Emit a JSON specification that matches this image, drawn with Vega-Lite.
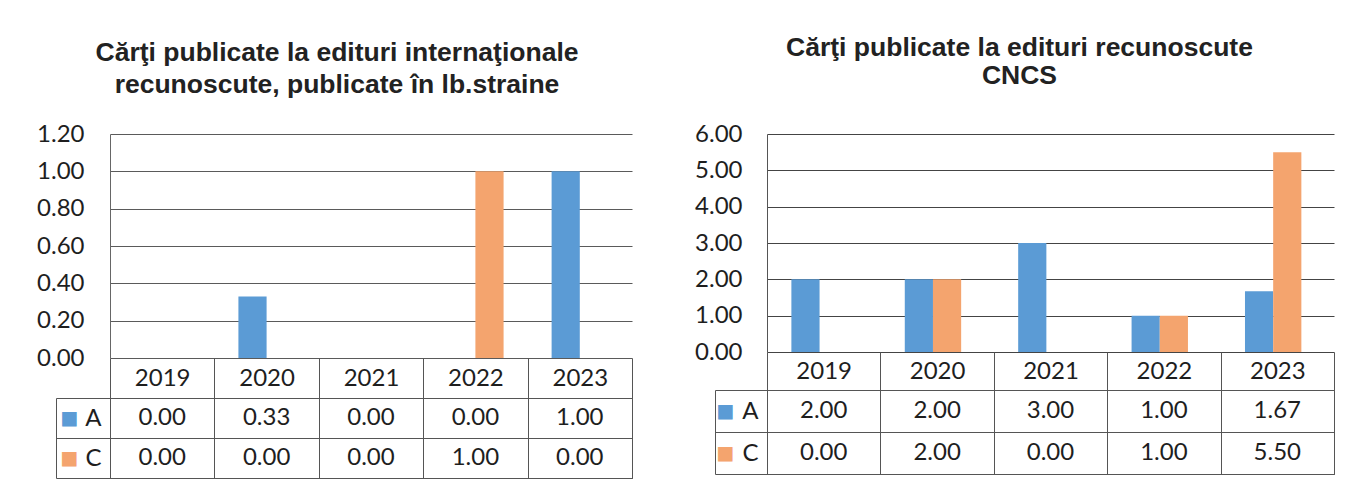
{
  "$schema": "https://vega.github.io/schema/vega-lite/v6.json",
  "background": "white",
  "padding": {"left": 36, "top": 34, "right": 5, "bottom": 5},
  "spacing": 61,
  "datasets": {
    "left": [
      {"year": "2019", "series": "A", "value": 0},
      {"year": "2020", "series": "A", "value": 0.33},
      {"year": "2021", "series": "A", "value": 0},
      {"year": "2022", "series": "A", "value": 0},
      {"year": "2023", "series": "A", "value": 1},
      {"year": "2019", "series": "C", "value": 0},
      {"year": "2020", "series": "C", "value": 0},
      {"year": "2021", "series": "C", "value": 0},
      {"year": "2022", "series": "C", "value": 1},
      {"year": "2023", "series": "C", "value": 0}
    ],
    "right": [
      {"year": "2019", "series": "A", "value": 2},
      {"year": "2020", "series": "A", "value": 2},
      {"year": "2021", "series": "A", "value": 3},
      {"year": "2022", "series": "A", "value": 1},
      {"year": "2023", "series": "A", "value": 1.67},
      {"year": "2019", "series": "C", "value": 0},
      {"year": "2020", "series": "C", "value": 2},
      {"year": "2021", "series": "C", "value": 0},
      {"year": "2022", "series": "C", "value": 1},
      {"year": "2023", "series": "C", "value": 5.5}
    ]
  },
  "config": {
    "font": "Lato",
    "title": {"font": "Liberation Sans", "fontSize": 26.5, "fontWeight": "bold", "color": "#222222"},
    "axis": {"labelFont": "Lato", "labelFontSize": 24, "labelColor": "#1e1e1e", "title": null}
  },
  "hconcat": [
    {
      "spacing": 40,
      "bounds": "flush",
      "resolve": {"scale": {"x": "independent", "y": "independent", "color": "independent"}},
      "vconcat": [
        {
          "width": 522,
          "height": 224,
          "title": {"text": ["Cărţi publicate la edituri internaţionale", "recunoscute, publicate în lb.straine"], "lineHeight": 32, "offset": 24, "dx": -34},
          "data": {"name": "left"},
          "mark": {"type": "bar"},
          "encoding": {
            "x": {"field": "year", "type": "nominal", "scale": {"paddingInner": 0.46, "paddingOuter": 0.23}, "axis": null},
            "xOffset": {"field": "series", "type": "nominal", "scale": {"domain": ["A", "C"], "paddingInner": 0, "paddingOuter": 0}},
            "y": {"field": "value", "type": "quantitative", "scale": {"domain": [0, 1.2], "nice": false},
                  "axis": {"values": [0, 0.2, 0.4, 0.6, 0.8, 1, 1.2], "format": ".2f", "ticks": false, "labelPadding": 26, "domainColor": "#666", "grid": true, "gridColor": "#5a5a5a", "gridOpacity": 1}},
            "color": {"field": "series", "type": "nominal", "scale": {"domain": ["A", "C"], "range": ["#5B9BD5", "#F4A46E"]}, "legend": null}
          },
          "view": {"stroke": null}
        },
        {
          "width": 522,
          "height": 80,
          "data": {"name": "left"},
          "layer": [
            {
              "mark": {"type": "text", "font": "Lato", "fontSize": 24, "color": "#1e1e1e"},
              "encoding": {
                "x": {"field": "year", "type": "nominal", "scale": {"paddingInner": 0, "paddingOuter": 0},
                      "axis": {"orient": "top", "tickBand": "extent", "tickSize": 40, "tickColor": "#555", "labelPadding": -20, "labelBaseline": "middle", "labelAngle": 0, "domain": false, "grid": true, "gridColor": "#555", "gridOpacity": 1}},
                "y": {"field": "series", "type": "nominal", "scale": {"domain": ["A", "C"], "paddingInner": 0, "paddingOuter": 0},
                      "axis": {"orient": "left", "tickBand": "extent", "tickSize": 54, "tickColor": "#555", "labelPadding": -45, "domainColor": "#555", "grid": true, "gridColor": "#555", "gridOpacity": 1}},
                "text": {"field": "value", "type": "quantitative", "format": ".2f"}
              }
            },
            {
              "mark": {"type": "text", "text": "", "opacity": 0},
              "encoding": {
                "y": {"field": "series", "type": "nominal",
                      "axis": {"orient": "left", "offset": 54, "ticks": false, "tickSize": 0, "grid": false, "domainColor": "#555", "labelPadding": -22, "labelExpr": "'■'", "labelFont": "DejaVu Sans", "labelFontSize": 19,
                               "labelColor": {"condition": {"test": "datum.value === 'A'", "value": "#5B9BD5"}, "value": "#F4A46E"}}}
              }
            }
          ],
          "resolve": {"axis": {"y": "independent"}},
          "view": {"stroke": "#555"}
        }
      ]
    },
    {
      "spacing": 38,
      "bounds": "flush",
      "resolve": {"scale": {"x": "independent", "y": "independent", "color": "independent"}},
      "vconcat": [
        {
          "width": 567,
          "height": 218,
          "title": {"text": ["Cărţi publicate la edituri recunoscute", "CNCS"], "lineHeight": 28, "offset": 29, "dx": -31, "dy": -4},
          "data": {"name": "right"},
          "mark": {"type": "bar"},
          "encoding": {
            "x": {"field": "year", "type": "nominal", "scale": {"paddingInner": 0.43, "paddingOuter": 0.215}, "axis": null},
            "xOffset": {"field": "series", "type": "nominal", "scale": {"domain": ["A", "C"], "paddingInner": 0, "paddingOuter": 0}},
            "y": {"field": "value", "type": "quantitative", "scale": {"domain": [0, 6], "nice": false},
                  "axis": {"values": [0, 1, 2, 3, 4, 5, 6], "format": ".2f", "ticks": false, "labelPadding": 25, "domainColor": "#555", "grid": true, "gridColor": "#444", "gridOpacity": 1}},
            "color": {"field": "series", "type": "nominal", "scale": {"domain": ["A", "C"], "range": ["#5B9BD5", "#F4A46E"]}, "legend": null}
          },
          "view": {"stroke": null}
        },
        {
          "width": 567,
          "height": 84,
          "data": {"name": "right"},
          "layer": [
            {
              "mark": {"type": "text", "font": "Lato", "fontSize": 24, "color": "#1e1e1e"},
              "encoding": {
                "x": {"field": "year", "type": "nominal", "scale": {"paddingInner": 0, "paddingOuter": 0},
                      "axis": {"orient": "top", "tickBand": "extent", "tickSize": 38, "tickColor": "#555", "labelPadding": -19, "labelBaseline": "middle", "labelAngle": 0, "domain": false, "grid": true, "gridColor": "#555", "gridOpacity": 1}},
                "y": {"field": "series", "type": "nominal", "scale": {"domain": ["A", "C"], "paddingInner": 0, "paddingOuter": 0},
                      "axis": {"orient": "left", "tickBand": "extent", "tickSize": 52, "tickColor": "#555", "labelPadding": -43, "domainColor": "#555", "grid": true, "gridColor": "#555", "gridOpacity": 1}},
                "text": {"field": "value", "type": "quantitative", "format": ".2f"}
              }
            },
            {
              "mark": {"type": "text", "text": "", "opacity": 0},
              "encoding": {
                "y": {"field": "series", "type": "nominal",
                      "axis": {"orient": "left", "offset": 52, "ticks": false, "tickSize": 0, "grid": false, "domainColor": "#555", "labelPadding": -19, "labelExpr": "'■'", "labelFont": "DejaVu Sans", "labelFontSize": 19,
                               "labelColor": {"condition": {"test": "datum.value === 'A'", "value": "#5B9BD5"}, "value": "#F4A46E"}}}
              }
            }
          ],
          "resolve": {"axis": {"y": "independent"}},
          "view": {"stroke": "#555"}
        }
      ]
    }
  ]
}
